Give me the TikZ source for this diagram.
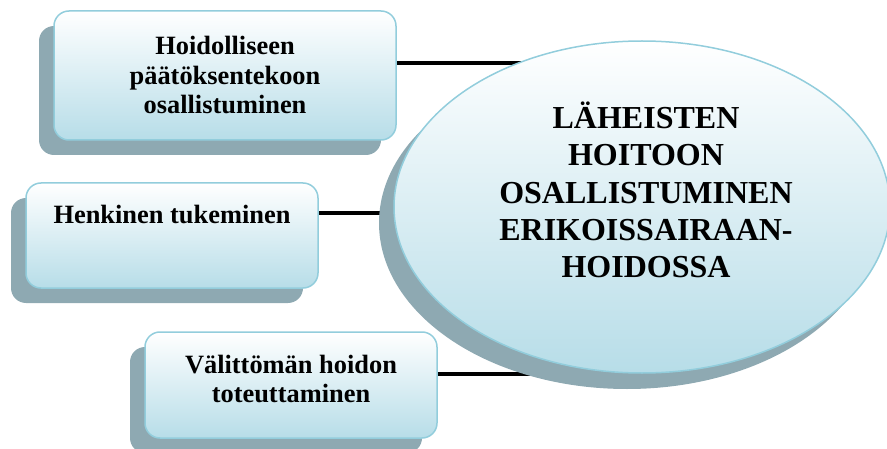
\documentclass[tikz,border=0pt]{standalone}
\usepackage{fontspec}
\setmainfont{Liberation Serif}
\usetikzlibrary{shadows}
\definecolor{edgeblue}{RGB}{146,205,220}
\definecolor{fillblue}{RGB}{183,221,232}
\definecolor{shadowgray}{RGB}{142,169,178}
\pgfdeclarelayer{background}
\pgfsetlayers{background,main}
\tikzset{
  x=1pt, y=1pt,
  topicbox/.style={draw=edgeblue, line width=1.5pt, rounded corners=15pt,
    top color=white, bottom color=fillblue,
    drop shadow={shadow xshift=-15pt, shadow yshift=-15pt, fill=shadowgray, opacity=1},
    inner sep=0pt},
  hub/.style={ellipse, draw=edgeblue, line width=1.5pt,
    top color=white, bottom color=fillblue,
    drop shadow={shadow xshift=-15pt, shadow yshift=-16pt, fill=shadowgray, opacity=1},
    inner sep=0pt, minimum width=496pt, minimum height=332pt},
  boxtext/.style={font=\bfseries\fontsize{26.4}{29.5}\selectfont, align=center, inner sep=0pt},
  hubtext/.style={font=\bfseries\fontsize{32}{37.2}\selectfont, align=center, inner sep=0pt},
  link/.style={line width=3.5pt, black}
}
\usetikzlibrary{shapes.geometric}
\begin{document}
\begin{tikzpicture}
\useasboundingbox (0,0) rectangle (887,448);
\clip (0,0) rectangle (887,448);

% topic boxes
\node[topicbox, minimum width=342pt, minimum height=129pt] (b1) at (225,372.5) {};
\node[topicbox, minimum width=292pt, minimum height=105pt] (b2) at (172,212.5) {};
\node[topicbox, minimum width=292pt, minimum height=106pt] (b3) at (291,63) {};

% central ellipse
\node[hub] (hub) at (642,241) {};

% box labels
\node[boxtext] (t1) at (b1.center) {Hoidolliseen\\päätöksentekoon\\osallistuminen};
\node[boxtext] (t2) at ([yshift=20.5pt]b2.center) {Henkinen tukeminen};
\node[boxtext] (t3) at ([yshift=6pt]b3.center) {Välittömän hoidon\\toteuttaminen};
\node[hubtext] (th) at ([xshift=4pt,yshift=17pt]hub.center)
  {LÄHEISTEN\\HOITOON\\OSALLISTUMINEN\\ERIKOISSAIRAAN-\\HOIDOSSA};

% connectors, running behind the ellipse
\begin{pgfonlayer}{background}
\draw[link] ([yshift=12.5pt]b1.east) -- ([yshift=12.5pt]b1.east -| hub.center);
\draw[link] ([yshift=22.5pt]b2.east) -- ([yshift=22.5pt]b2.east -| hub.center);
\draw[link] ([yshift=11pt]b3.east) -- ([yshift=11pt]b3.east -| hub.center);
\end{pgfonlayer}
\end{tikzpicture}
\end{document}
